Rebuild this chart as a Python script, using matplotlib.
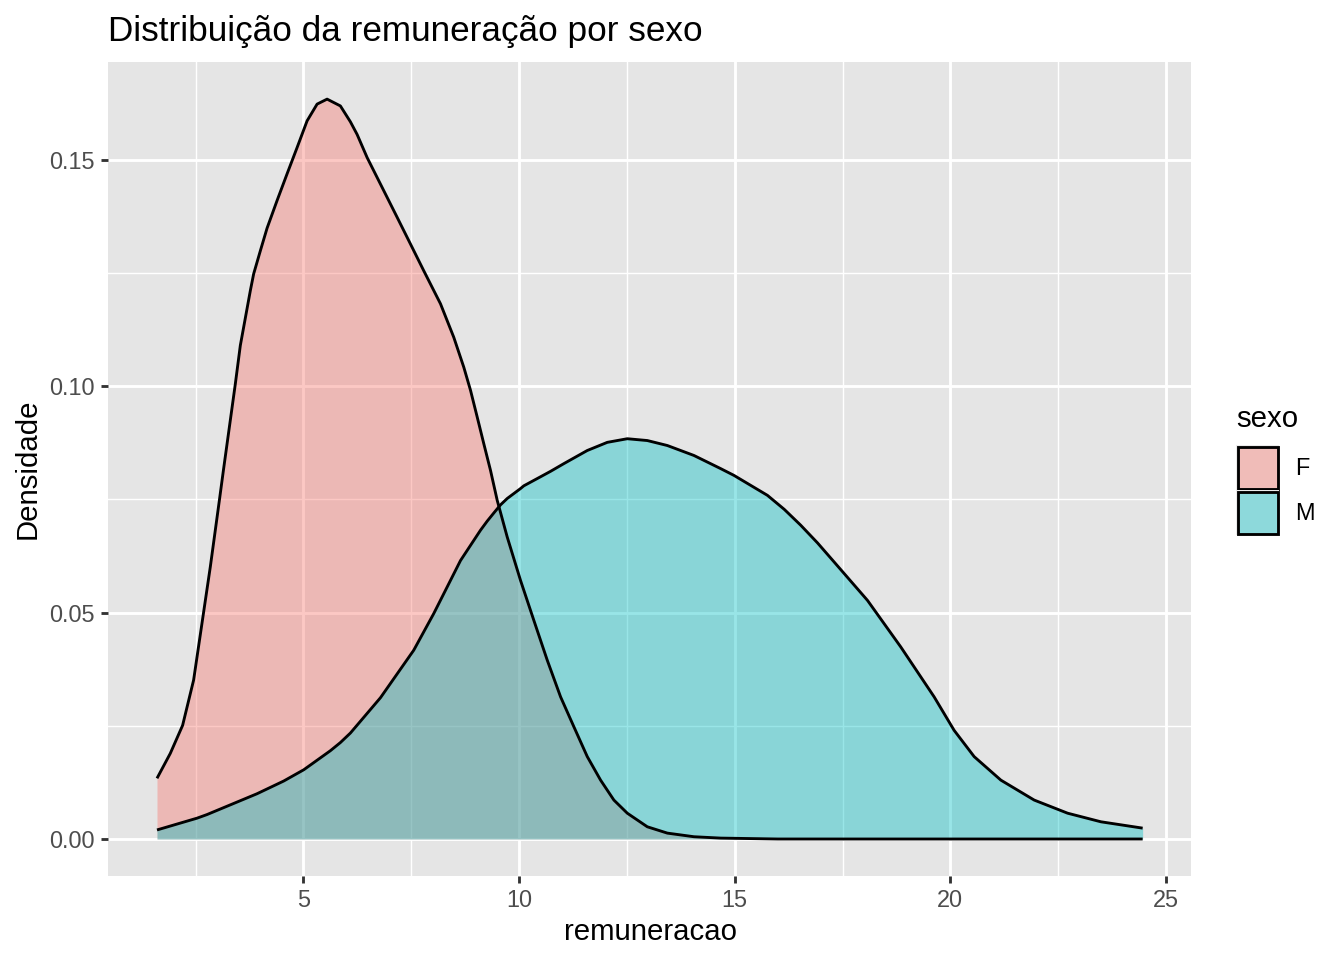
import matplotlib.pyplot as plt
from matplotlib.patches import Rectangle
from matplotlib.ticker import FormatStrFormatter

plt.rcParams['font.family'] = ['Liberation Sans', 'DejaVu Sans']

# densidade estimada por sexo
x_f = [1.606, 1.914, 2.200, 2.455, 2.687, 2.842, 3.058, 3.144, 3.422, 3.538, 3.770,
       3.847, 4.002, 4.158, 4.390, 4.622, 4.854, 5.086, 5.318, 5.550, 5.858,
       6.090, 6.246, 6.478, 6.863, 7.174, 7.483, 7.791, 8.179, 8.487, 8.719, 8.875,
       9.030, 9.183, 9.339, 9.494, 9.726, 10.035, 10.343, 10.654, 10.963, 11.271,
       11.582, 11.891, 12.199, 12.510, 12.974, 13.439, 14.056, 14.675, 16.0, 20.0,
       24.459]
dens_f = [0.0134, 0.0189, 0.0251, 0.0351, 0.0501, 0.0601, 0.0752, 0.0813, 0.1005,
          0.1090, 0.1211, 0.1248, 0.1299, 0.1349, 0.1410, 0.1469, 0.1527,
          0.1586, 0.1623, 0.1634, 0.1619, 0.1584, 0.1556, 0.1505, 0.1432, 0.1373,
          0.1314, 0.1255, 0.1182, 0.1108, 0.1042, 0.0991, 0.0932, 0.0873, 0.0814,
          0.0748, 0.0667, 0.0571, 0.0483, 0.0395, 0.0314, 0.0248, 0.0182, 0.0130,
          0.0086, 0.0057, 0.0027, 0.0013, 0.0005, 0.0002, 0.0, 0.0, 0.0]

x_m = [1.606, 2.534, 2.766, 3.926, 4.543, 5.010, 5.626, 5.858, 6.090, 6.787, 7.559,
       8.023, 8.643, 9.107, 9.262, 9.415, 9.571, 9.726, 10.035, 10.111, 10.499,
       10.731, 11.039, 11.582, 12.046, 12.510, 12.974, 13.439, 14.056, 14.675,
       14.984, 15.759, 16.150, 16.531, 16.920, 17.304, 18.079, 18.852, 19.624,
       20.088, 20.552, 21.172, 21.944, 22.719, 23.492, 24.459]
dens_m = [0.0020, 0.0046, 0.0054, 0.0100, 0.0128, 0.0153, 0.0195, 0.0213, 0.0234,
          0.0312, 0.0417, 0.0498, 0.0615, 0.0682, 0.0702, 0.0720, 0.0738, 0.0752,
          0.0774, 0.0780, 0.0800, 0.0812, 0.0829, 0.0858, 0.0876, 0.0884, 0.0880,
          0.0869, 0.0847, 0.0818, 0.0803, 0.0759, 0.0728, 0.0693, 0.0654, 0.0612,
          0.0527, 0.0424, 0.0314, 0.0240, 0.0182, 0.0130, 0.0086, 0.0057, 0.0038,
          0.0024]

grupos = ['F', 'M']
cores = ['#F8766D', '#00BFC4']
alfa = 0.4

W, H = 1344, 960


def fx(px):
    return px / W


def fy(py):
    return 1 - py / H


fig = plt.figure(figsize=(7, 5), dpi=192)
ax = fig.add_axes([fx(108), fy(876), (1191 - 108) / W, (876 - 62) / H])
ax.set_facecolor('#E5E5E5')
for s in ax.spines.values():
    s.set_visible(False)

# curvas de densidade (contorno apenas na parte superior)
for xs, ys, cor in [(x_f, dens_f, cores[0]), (x_m, dens_m, cores[1])]:
    ax.fill_between(xs, 0, ys, color=cor, alpha=alfa, lw=0)
    ax.plot(xs, ys, color='black', lw=1.07, solid_capstyle='butt',
            solid_joinstyle='round')

ax.set_xlim(0.47, 25.58)
ax.set_ylim(-0.00817, 0.1716)
ax.set_xticks([5, 10, 15, 20, 25])
ax.set_xticks([2.5, 7.5, 12.5, 17.5, 22.5], minor=True)
ax.set_yticks([0.0, 0.05, 0.10, 0.15])
ax.set_yticks([0.025, 0.075, 0.125], minor=True)
ax.yaxis.set_major_formatter(FormatStrFormatter('%.2f'))
ax.grid(which='major', color='white', lw=1.07)
ax.grid(which='minor', color='white', lw=0.53)
ax.set_axisbelow(True)
ax.tick_params(which='major', length=2.75, width=1.07, color='#333333',
               labelcolor='#4D4D4D', labelsize=8.8, pad=2.2)
ax.tick_params(which='minor', length=0)

fig.text(fx(108), fy(41), 'Distribuição da remuneração por sexo', fontsize=13.2,
         ha='left', va='baseline')
fig.text(fx(650), fy(940), 'remuneracao', fontsize=11, ha='center', va='baseline')
fig.text(fx(28), fy(469), 'Densidade', fontsize=11, ha='center', va='center',
         rotation=90)

# legenda
fig.text(fx(1236), fy(427), 'sexo', fontsize=11, ha='left', va='baseline')
topos = [445, 490]
for g, cor, t in zip(grupos, cores, topos):
    fig.add_artist(Rectangle((fx(1236), fy(t + 45)), 43 / W, 45 / H,
                             transform=fig.transFigure, facecolor='#EBEBEB',
                             edgecolor='none'))
    fig.add_artist(Rectangle((fx(1237.5), fy(t + 43.5)), 40 / W, 42 / H,
                             transform=fig.transFigure, facecolor=cor, alpha=alfa,
                             edgecolor='none'))
    fig.add_artist(Rectangle((fx(1237.5), fy(t + 43.5)), 40 / W, 42 / H,
                             transform=fig.transFigure, facecolor='none',
                             edgecolor='black', lw=1.07))
    fig.text(fx(1295), fy(t + 23), g, fontsize=8.8, ha='left', va='center')

fig.savefig('out.png', dpi=192)
